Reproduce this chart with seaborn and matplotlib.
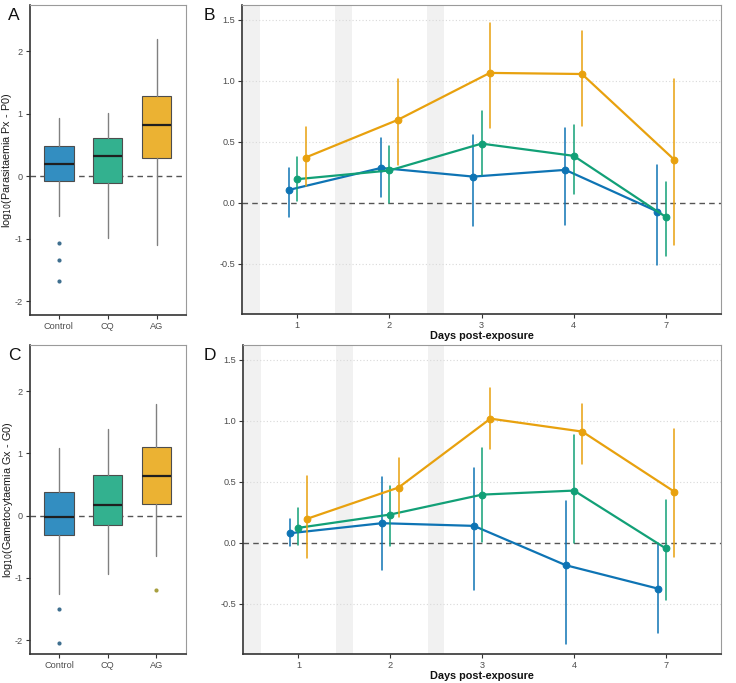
import numpy as np
import pandas as pd
import matplotlib
matplotlib.use("Agg")
import matplotlib.pyplot as plt
import seaborn as sns

# ---------------- data ----------------
groups = ["Control", "CQ", "AG"]
days = ["1", "2", "3", "4", "7"]

# Panel A box statistics (log10 Parasitaemia Px - P0)
A_q1 = [-0.07, -0.11, 0.29]
A_med = [0.19, 0.32, 0.82]
A_q3 = [0.49, 0.62, 1.29]
A_lo = [-0.63, -0.99, -1.10]
A_hi = [0.93, 1.02, 2.19]
A_out = [[-1.06, -1.34, -1.67], [], []]

# Panel C box statistics (log10 Gametocytaemia Gx - G0)
C_q1 = [-0.31, -0.15, 0.19]
C_med = [-0.02, 0.17, 0.64]
C_q3 = [0.38, 0.65, 1.11]
C_lo = [-1.25, -0.94, -0.65]
C_hi = [1.09, 1.39, 1.79]
C_out = [[-1.50, -2.04], [], [-1.20]]

# Panel B means and intervals
B_mean_control = [0.106, 0.286, 0.215, 0.270, -0.071]
B_lo_control = [-0.117, 0.049, -0.191, -0.183, -0.505]
B_hi_control = [0.289, 0.535, 0.559, 0.611, 0.308]
B_mean_cq = [0.194, 0.265, 0.485, 0.385, -0.115]
B_lo_cq = [0.019, -0.005, 0.226, 0.074, -0.436]
B_hi_cq = [0.376, 0.466, 0.755, 0.641, 0.172]
B_mean_ag = [0.371, 0.679, 1.064, 1.055, 0.355]
B_lo_ag = [0.142, 0.308, 0.616, 0.633, -0.346]
B_hi_ag = [0.619, 1.012, 1.470, 1.404, 1.017]

# Panel D means and intervals
D_mean_control = [0.079, 0.161, 0.139, -0.183, -0.374]
D_lo_control = [-0.027, -0.224, -0.387, -0.832, -0.742]
D_hi_control = [0.194, 0.537, 0.616, 0.344, 0.0]
D_mean_cq = [0.123, 0.232, 0.395, 0.428, -0.046]
D_lo_cq = [-0.019, -0.027, 0.005, 0.0, -0.466]
D_hi_cq = [0.286, 0.469, 0.777, 0.886, 0.352]
D_mean_ag = [0.196, 0.453, 1.017, 0.911, 0.420]
D_lo_ag = [-0.128, 0.213, 0.766, 0.649, -0.117]
D_hi_ag = [0.545, 0.695, 1.265, 1.140, 0.930]

box_colors = ["#338EC1", "#33B18F", "#EBB233"]
flier_colors = ["#3F6F8F", "#3F7F6F", "#A8A040"]
line_colors = ["#0E74B4", "#12A077", "#E8A10E"]

# ---------------- style ----------------
sns.set_theme(style="white")
plt.rcParams["font.family"] = ["Liberation Sans", "DejaVu Sans"]
plt.rcParams["axes.unicode_minus"] = False

fig = plt.figure(figsize=(7.36, 6.83), dpi=100)
W, H = 736, 683


def add_ax(l, t, r, b):
    return fig.add_axes([l / W, 1 - b / H, (r - l) / W, (b - t) / H])


axA = add_ax(29.5, 5, 186, 315)
axB = add_ax(242, 5, 721, 314)
axC = add_ax(29.7, 345, 185.7, 654)
axD = add_ax(243.3, 345, 721, 654)


def style_axes(ax):
    for s in ["left", "bottom"]:
        ax.spines[s].set_color("#333333")
        ax.spines[s].set_linewidth(1.2)
    for s in ["top", "right"]:
        ax.spines[s].set_color("#9a9a9a")
        ax.spines[s].set_linewidth(0.8)
    ax.tick_params(axis="both", which="both", direction="out", length=3,
                   width=0.8, color="#333333", labelsize=6.6,
                   labelcolor="#4D4D4D", pad=2,
                   left=True, bottom=True)


def box_panel(ax, q1, med, q3, lo, hi, out, ylabel):
    stats = []
    for i in range(len(groups)):
        stats.append(dict(med=med[i], q1=q1[i], q3=q3[i], whislo=lo[i],
                          whishi=hi[i], fliers=np.array(out[i]),
                          label=groups[i]))
    bp = ax.bxp(stats, positions=range(len(groups)), widths=0.6,
                patch_artist=True, showcaps=False,
                boxprops=dict(edgecolor="#4D4D4D", linewidth=0.8),
                whiskerprops=dict(color="#808080", linewidth=1.0),
                medianprops=dict(color="#1F1F1F", linewidth=1.6),
                flierprops=dict(marker="o", markersize=3.0,
                                markeredgewidth=0))
    for patch, c in zip(bp["boxes"], box_colors):
        patch.set_facecolor(c)
    for fl, c in zip(bp["fliers"], flier_colors):
        fl.set_markerfacecolor(c)
    ax.axhline(0, color="#555555", linestyle=(0, (4, 3)), linewidth=1.0,
               zorder=0.5)
    ax.set_xlim(-0.6, 2.6)
    ax.set_ylim(-2.22, 2.74)
    ax.set_yticks([-2, -1, 0, 1, 2])
    ax.set_yticklabels(["-2", "-1", "0", "1", "2"])
    ax.set_xticks(range(len(groups)))
    ax.set_xticklabels(groups)
    ax.set_ylabel(ylabel, fontsize=7.8, color="#1a1a1a")
    ax.yaxis.set_label_coords((14.5 - 29.5) / 156.5, 0.5)
    style_axes(ax)


def line_panel(ax, means, los, his):
    rows = []
    for g, m, l, h in zip(groups, means, los, his):
        for d, mm, ll, hh in zip(days, m, l, h):
            for v in (ll, mm, hh):
                rows.append({"day": d, "group": g, "value": v})
    df = pd.DataFrame(rows)
    for c in (-0.5, 0.5, 1.5):
        ax.axvspan(c - 0.09, c + 0.09, color="#f1f1f1", zorder=0, lw=0)
    for yv in (-0.5, 0.5, 1.0, 1.5):
        ax.axhline(yv, color="#d9d9d9", linestyle=(0, (1, 2)), linewidth=0.8,
                   zorder=0.2)
    ax.axhline(0, color="#555555", linestyle=(0, (4, 3)), linewidth=1.0,
               zorder=0.5)
    sns.pointplot(data=df, x="day", y="value", hue="group", order=days,
                  hue_order=groups, palette=line_colors, estimator="median",
                  errorbar=("pi", 100), dodge=0.18, markers="o",
                  linewidth=1.6, markersize=4.8, markeredgewidth=0.8,
                  err_kws={"linewidth": 1.1}, legend=False, ax=ax)
    ax.set_xlim(-0.6, 4.6)
    ax.set_ylim(-0.91, 1.62)
    ax.set_yticks([-0.5, 0.0, 0.5, 1.0, 1.5])
    ax.set_yticklabels(["-0.5", "0.0", "0.5", "1.0", "1.5"])
    ax.set_xlabel("Days post-exposure", fontsize=7.8, fontweight="bold",
                  color="#111111", labelpad=1)
    ax.set_ylabel("")
    style_axes(ax)


box_panel(axA, A_q1, A_med, A_q3, A_lo, A_hi, A_out,
          r"log$_{10}$(Parasitaemia Px - P0)")
box_panel(axC, C_q1, C_med, C_q3, C_lo, C_hi, C_out,
          r"log$_{10}$(Gametocytaemia Gx - G0)")
line_panel(axB, [B_mean_control, B_mean_cq, B_mean_ag],
           [B_lo_control, B_lo_cq, B_lo_ag], [B_hi_control, B_hi_cq, B_hi_ag])
line_panel(axD, [D_mean_control, D_mean_cq, D_mean_ag],
           [D_lo_control, D_lo_cq, D_lo_ag], [D_hi_control, D_hi_cq, D_hi_ag])

for lab, x, y in [("A", 8, 8), ("B", 204, 8), ("C", 8, 348), ("D", 204, 348)]:
    fig.text(x / W, 1 - y / H, lab, fontsize=12.5, ha="left", va="top",
             color="#111111")

fig.savefig("out.png", dpi=100)
